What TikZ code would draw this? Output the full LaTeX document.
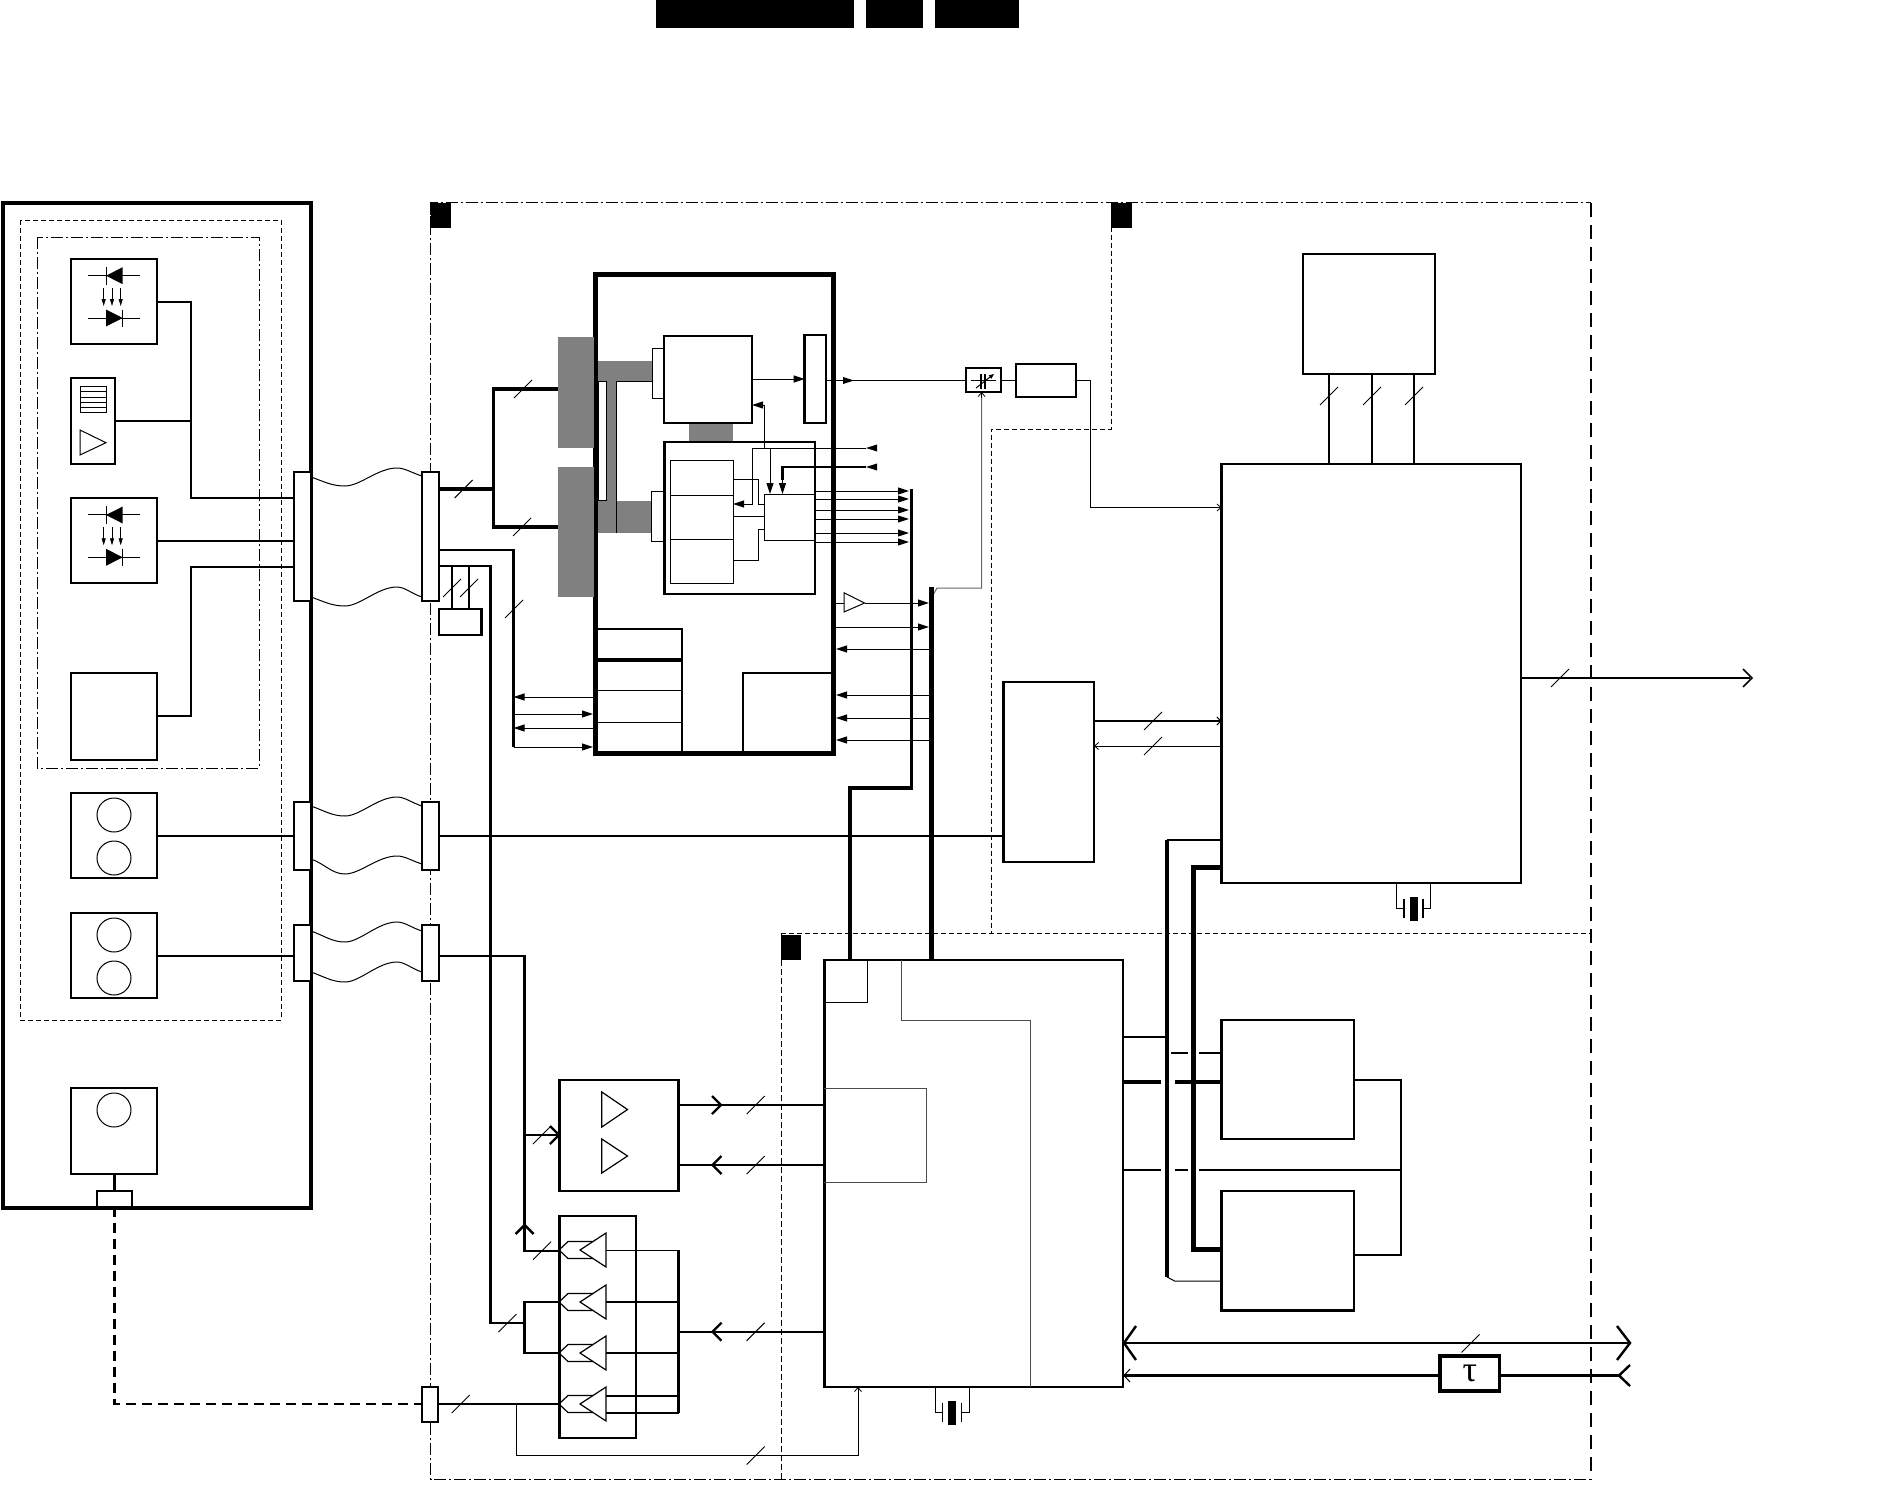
\documentclass[tikz,border=0pt]{standalone}
\usepackage{fontspec}
\setmainfont{Liberation Serif}
\usetikzlibrary{arrows.meta}
\newcommand\bx[6][]{\node[boxst,#1,anchor=north west,minimum width={(#5-#3)*1pt},minimum height={(#6-#4)*1pt}] (#2) at (#3,#4) {};}
\newcommand\tick[2]{\draw[tickst] (#1-9,#2+9) -- (#1+9,#2-9);}
\newcommand\opr[2]{\draw[w2] (#1-9,#2-9) -- (#1,#2) -- (#1-9,#2+9);}
\newcommand\opl[2]{\draw[w2] (#1+9,#2-9) -- (#1,#2) -- (#1+9,#2+9);}
\newcommand\trl[2]{\fill (#1,#2) -- (#1+11,#2-3.5) -- (#1+11,#2+3.5) -- cycle;}
\newcommand\trr[2]{\fill (#1,#2) -- (#1-11,#2-3.5) -- (#1-11,#2+3.5) -- cycle;}
\newcommand\diodes[1]{%
 \begin{scope}[yshift=#1*1pt]
 \draw[w1] (88,275.5) -- (140,275.5);
 \fill (106,275.7) -- (122.7,267.2) -- (122.7,284.2) -- cycle;
 \draw[w1] (106,267) -- (106,284.5);
 \draw[w1] (88,318) -- (140,318);
 \fill (122.7,318) -- (106,309.5) -- (106,326.5) -- cycle;
 \draw[w1] (122.7,309.5) -- (122.7,327);
 \foreach \ax in {103.7,112,120.7}{\draw[w07,-{Triangle[length=7pt,width=4pt]}] (\ax,288) -- (\ax,306);}
 \end{scope}}
\newcommand\crystal[3]{% left leg, right leg, top y
 \draw[w1] (#1,#3) -- (#1,#3+25.5) -- (#1+7.5,#3+25.5);
 \draw[w1] (#2,#3) -- (#2,#3+25.5) -- (#2-7.5,#3+25.5);
 \draw[w15] (#1+7.5,#3+15.5) -- (#1+7.5,#3+35);
 \draw[w15] (#2-7.5,#3+15.5) -- (#2-7.5,#3+35);
 \fill (#1+13,#3+13.5) rectangle (#2-13,#3+38);}
\newcommand\buffer[1]{%
 \draw[line width=1.2pt] (606,#1-17) -- (580,#1) -- (606,#1+17) -- cycle;
 \draw[line width=1.2pt] (593,#1-8.5) -- (568,#1-8.5) -- (559,#1) -- (568,#1+8.5) -- (593,#1+8.5);}
\tikzset{
 boxst/.style={draw,line width=2.4pt,inner sep=0pt,outer sep=0pt,fill=white},
 w07/.style={line width=.8pt}, w1/.style={line width=1pt}, w15/.style={line width=1.6pt},
 w2/.style={line width=2.4pt}, w25/.style={line width=2.8pt}, w3/.style={line width=3.2pt},
 w4/.style={line width=4.5pt},
 tickst/.style={line width=1pt},
 gr/.style={line width=1pt,black!70},
 arr/.style={-{Triangle[length=11pt,width=7pt]}},
 arrthin/.style={-{Straight Barb[length=4pt,width=7pt,line width=.8pt]}},
 frame/.style={line width=1pt,dash pattern=on 12pt off 3pt on 2pt off 3pt},
 fine/.style={line width=1pt,dash pattern=on 5pt off 3pt},
 longd/.style={line width=2pt,dash pattern=on 14pt off 8pt},
 line join=miter
}
\begin{document}
\begin{tikzpicture}[x=1pt,y=-1pt]
\useasboundingbox (0,0) rectangle (1881,1490);
% top bars
\fill (656,0) rectangle (854,28);
\fill (866,0) rectangle (923,28);
\fill (934.5,0) rectangle (1019,28);
% frames
\draw[frame] (430.5,228) -- (430.5,203) -- (1590.5,203);
\draw[frame] (430.5,203) -- (430.5,1479.5) -- (1590.5,1479.5);
\draw[longd] (1590.5,203) -- (1590.5,1479.5);
\draw[fine] (1111,203) -- (1111,429) -- (991,429) -- (991,933);
\draw[fine] (781,933) -- (1590.5,933);
\draw[line width=1pt,dash pattern=on 6pt off 3pt] (781,933) -- (781,1479.5);
\fill (430.5,203) rectangle (451,228);
\fill (1111,203) rectangle (1132,228);
\fill (781,934.5) rectangle (801,960);
% left unit
\draw[line width=3.5pt] (3,203) rectangle (311,1208);
\draw[fine] (20,220) rectangle (281,1020);
\draw[frame] (37,237) rectangle (259,768);
\bx[line width=2.8pt]{d1}{71}{259}{157}{344}
\bx[line width=2.8pt]{d2}{71}{378}{115}{464}
\bx[line width=2.8pt]{d3}{71}{498}{157}{583}
\bx[line width=2.8pt]{d4}{71}{673}{157}{760}
\bx[line width=2.8pt]{d5}{71}{793}{157}{878}
\bx[line width=2.8pt]{d6}{71}{913}{157}{998}
\bx[line width=2.8pt]{d7}{71}{1088}{157}{1174}
\bx[w2]{d8}{97}{1191}{132}{1207}
\diodes{0}
\diodes{-239.3}
\draw[w1] (80,386.7) rectangle (106,412.7);
\foreach \hy in {391.9,397.1,402.3,407.5}{\draw[w1] (80,\hy) -- (106,\hy);}
\draw[w1] (80,430) -- (106,442.7) -- (80,455) -- cycle;
\foreach \cy in {815,858,935,978,1110}{\draw[w1] (114,\cy) circle (17);}
% connectors
\bx[w2]{j1}{294}{472}{311}{601}
\bx[w2]{j2}{294}{802}{311}{870}
\bx[w2]{j3}{294}{925}{311}{981}
\bx[w2]{k1}{422}{472}{439}{601}
\bx[w2]{k2}{422}{802}{439}{870}
\bx[w2]{k3}{422}{925}{439}{981}
\bx[w2]{k4}{422}{1387}{438}{1422}
\foreach \a/\b/\c/\d in {477/486/468/476,597/606/587/597,806/816/797/806,859/874/856/864,931/942/922/931,972/982/962/972}{
 \draw[w1] (311,\a) .. controls (325,\a+5) and (332,\b) .. (345,\b) .. controls (360,\b) and (378,\c) .. (397,\c) .. controls (405,\c) and (412,\d-3) .. (422,\d);}
\draw[w2] (d1.east |- 0,302) -- (191,302) -- (191,498) -- (j1.west |- 0,498);
\draw[w2] (d2.east |- 0,421) -- (191,421);
\draw[w2] (d3.east |- 0,541) -- (j1.west |- 0,541);
\draw[w2] (d4.east |- 0,716) -- (191,716) -- (191,567) -- (j1.west |- 0,567);
\draw[w2] (d5.east |- 0,836) -- (j2.west |- 0,836);
\draw[w2] (d6.east |- 0,956) -- (j3.west |- 0,956);
\draw[w2] (d7.south -| d8.north) -- (d8.north);
\draw[line width=2.5pt,dash pattern=on 10pt off 6pt] (d8.south) -- (d8.south |- 0,1404) -- (k4.west |- 0,1404);
% main IC
\bx[line width=5pt,fill=none]{ic}{595.5}{274}{833.5}{753}
\fill[black!50] (558,336.7) rectangle (594,448);
\fill[black!50] (558,466.7) rectangle (594,597);
\fill[black!50] (598,361) rectangle (652,381);
\fill[black!50] (598,501) rectangle (651,533);
\fill[black!50] (606,381) rectangle (616,501);
\fill[black!50] (689,423) rectangle (732.5,441.7);
\draw[w1] (598.6,381) rectangle (606,500);
\draw[w1] (616,533) -- (616,381) -- (652,381);
\bx[w1]{s1}{652}{348}{664}{398}
\bx[w2]{cpu}{664}{336}{752}{423}
\bx[w2]{bar}{804.6}{334.7}{826}{423}
\bx[w2,fill=none]{inner}{664.6}{441.7}{815}{593.7}
\bx[w1]{s2}{651}{491}{663.6}{541.7}
\bx[w1]{mem}{670.4}{460.7}{733}{583}
\draw[w1] (mem.west |- 0,495) -- (mem.east |- 0,495);
\draw[w1] (mem.west |- 0,539) -- (mem.east |- 0,539);
\bx[w1,fill=none]{ctl}{764.3}{494}{815}{540.7}
\draw[w1] (mem.east |- 0,479) -- (758,479) -- (758,504) -- (ctl.west |- 0,504);
\draw[w1] (mem.east |- 0,516) -- (ctl.west |- 0,516);
\draw[w1] (mem.east |- 0,560) -- (758,560) -- (758,529) -- (ctl.west |- 0,529);
\coordinate (inA) at (866,448);
\coordinate (inB) at (866,467);
\draw[w1,arr] (inA) -- (752,448) -- (752,504) -- (mem.east |- 0,504);
\draw[w1,arr] (764,448) -- (764,405) -- (cpu.east |- 0,405);
\draw[w1,arr] (770,448) -- (ctl.north -| 770,0);
\draw[w2] (inB) -- (782.5,467) -- (782.5,480);
\draw[w1,arr] (782.5,480) -- (ctl.north -| 782.5,0);
\trl{866}{448}
\trl{866}{467}
\draw[w1,arr] (cpu.east |- 0,379) -- (bar.west |- 0,379);
\foreach \oy in {491,499,510,519,533,542}{\draw[w1,arr] (815,\oy) -- (909,\oy);}
% lower left of IC
\bx[w2,fill=none]{la}{595.5}{629}{681.8}{660}
\draw[w3] (598,660) -- (681.8,660);
\draw[w2] (681.8,660) -- (681.8,753);
\draw[w1] (598,690) -- (681.8,690);
\draw[w1] (598,722) -- (681.8,722);
\draw[w2] (743,751) -- (743,672.7) -- (832,672.7);
% left buses
\draw[w3] (k1.east |- 0,489) -- (493.6,489);
\draw[w3] (558,389) -- (493.6,389) -- (493.6,527) -- (558,527);
\tick{523}{389}\tick{522}{527}\tick{463.6}{489}
\draw[w25] (k1.east |- 0,550) -- (513.6,550) -- (513.6,747);
\tick{514}{609}
\draw[w1,arr] (593,697) -- (513.6,697);
\draw[w1,arr] (513.6,714) -- (593,714);
\draw[w1,arr] (593,728) -- (513.6,728);
\draw[w1,arr] (513.6,747) -- (593,747);
\draw[w2] (k1.east |- 0,566) -- (490.5,566) -- (490.5,1323) -- (524.6,1323);
\bx[w25]{rbox}{439}{609}{481.8}{635}
\draw[w15] (452,566) -- (452,609);
\draw[w15] (469,566) -- (469,609);
\tick{452}{588}\tick{469}{588}
% right of IC
\bx[w15]{cap}{966}{368}{1001}{392}
\bx[w2]{fil}{1016}{364}{1076}{397}
\draw[w2] (980.7,374) -- (980.7,389);
\draw[w2] (984.7,374) -- (984.7,389);
\draw[w1] (971,380.7) -- (996,380.7);
\draw[w1,-{Triangle[length=5pt,width=4pt]}] (976,388) -- (994,374);
\draw[w1] (bar.east |- 0,380.5) -- (cap.west |- 0,380.5);
\trr{854}{380.5}
\draw[w1] (cap.east |- 0,380.5) -- (fil.west |- 0,380.5);
\bx[w2]{bic}{1221.6}{464}{1521}{883}
\bx[w2]{top}{1303}{254}{1435}{374}
\draw[w1,arrthin] (fil.east |- 0,380.5) -- (1090.5,380.5) -- (1090.5,507.5) -- (bic.west |- 0,507.5);
\foreach \tx in {1329,1372,1414}{\draw[w2] (\tx,374) -- (\tx,464); \tick{\tx}{396}}
\draw[w15] (bic.east |- 0,678) -- (1750,678);
\draw[w15] (1743,669) -- (1752,678) -- (1743,687);
\tick{1560}{678}
\draw[line width=1pt,black!60] (933,595) -- (937,588) -- (981.6,588) -- (981.6,396);
\draw[w1,arrthin] (981.6,398) -- (cap.south -| 981.6,0);
\draw[w3] (911.5,489) -- (911.5,788) -- (850,788) -- (850,960);
\draw[w4] (931.5,587) -- (931.5,960);
\draw[w1] (833,603) -- (844,603);
\draw[w1] (844,592.7) -- (864.6,603) -- (844,612) -- cycle;
\draw[w1,arr] (864.6,603) -- (929,603);
\draw[w1,arr] (836,627) -- (929,627);
\foreach \oy in {649,695,718,740}{\draw[w1,arr] (930,\oy) -- (836,\oy);}
% middle box
\bx[w2]{mid}{1003.5}{682}{1094}{862}
\draw[w2] (k2.east |- 0,836) -- (mid.west |- 0,836);
\draw[w25,-{Straight Barb[length=4pt,width=8pt,line width=1pt]}] (mid.east |- 0,721) -- (bic.west |- 0,721);
\draw[w1,arrthin] (bic.west |- 0,746) -- (mid.east |- 0,746);
\tick{1153}{721}\tick{1153}{746}
\crystal{1396.6}{1430.5}{883}
% lower IC
\bx[w2]{lic}{824.4}{960}{1123}{1387}
\draw[w1] (867,960) -- (867,1002) -- (824.4,1002);
\draw[gr] (901,960) -- (901,1020) -- (1030,1020) -- (1030,1387);
\draw[gr] (824.4,1088) -- (926.4,1088) -- (926.4,1182) -- (824.4,1182);
\crystal{935}{969}{1387}
% amp box
\bx[w2]{amp}{559.5}{1080}{678.6}{1191}
\draw[line width=1.2pt] (601.8,1092) -- (627.5,1109.5) -- (601.8,1127) -- cycle;
\draw[line width=1.2pt] (601.8,1139) -- (627.5,1156) -- (601.8,1173) -- cycle;
\draw[w2] (amp.east |- 0,1105) -- (lic.west |- 0,1105);
\draw[w2] (amp.east |- 0,1165) -- (lic.west |- 0,1165);
\opr{721}{1105}\opl{712.5}{1165}
\tick{755.7}{1105}\tick{755.7}{1165}
% buffers
\bx[w2]{buf}{559.5}{1216}{636}{1438}
\foreach \cy in {1250,1302,1353,1404}{\buffer{\cy}}
\draw[w2] (k3.east |- 0,956) -- (524.6,956) -- (524.6,1250.7) -- (buf.west |- 0,1250.7);
\draw[w2] (525,1135) -- (amp.west |- 0,1135);
\draw[w2] (550,1126) -- (559,1135) -- (550,1144);
\draw[w2] (515.6,1234) -- (524.6,1225) -- (533.6,1234);
\tick{542}{1135}\tick{542}{1250.7}
\draw[w2] (buf.west |- 0,1302) -- (524.6,1302) -- (524.6,1353) -- (buf.west |- 0,1353);
\tick{507.5}{1323}
\draw[w2] (k4.east |- 0,1404) -- (buf.west |- 0,1404);
\tick{460.7}{1404}
\draw[w1,arrthin] (516.5,1404) -- (516.5,1455.5) -- (858,1455.5) -- (lic.south -| 858,0);
\tick{755.7}{1455.5}
\draw[w1] (606,1250) -- (678.6,1250);
\draw[w15] (606,1302) -- (678.6,1302);
\draw[w15] (606,1353) -- (678.6,1353);
\draw[w15] (606,1396) -- (678.6,1396);
\draw[w15] (606,1412.7) -- (678.6,1412.7);
\draw[w2] (678.6,1250) -- (678.6,1412.7);
\draw[w2] (678.6,1331.7) -- (lic.west |- 0,1331.7);
\opl{712.5}{1331.7}
\tick{755.7}{1331.7}
% lower right
\bx[w2]{ra}{1221.6}{1020}{1354}{1139}
\bx[w2]{rb}{1221.6}{1191}{1354}{1310.5}
\draw[w2] (ra.east |- 0,1080) -- (1401,1080) -- (1401,1255) -- (rb.east |- 0,1255);
\draw[w15] (bic.west |- 0,840) -- (1167,840);
\draw[w4] (1167,840) -- (1167,1277);
\draw[w1] (1167,1277) -- (1174.6,1281) -- (rb.west |- 0,1281);
\draw[line width=5pt] (bic.west |- 0,867) -- (1193,867) -- (1193,1249) -- (rb.west |- 0,1249);
\draw[w15] (lic.east |- 0,1037) -- (1167,1037);
\draw[w15] (1171,1053) -- (1188,1053);
\draw[w15] (1199,1053) -- (ra.west |- 0,1053);
\draw[w3] (lic.east |- 0,1082) -- (1161,1082);
\draw[w3] (1175,1082) -- (ra.west |- 0,1082);
\draw[w2] (lic.east |- 0,1170) -- (1161,1170);
\draw[w2] (1174.6,1170) -- (1188,1170);
\draw[w2] (1199,1170) -- (1401,1170);
\draw[w2] (lic.east |- 0,1343) -- (1628,1343);
\draw[w2] (1136,1326) -- (1124,1343) -- (1136,1360);
\draw[w2] (1617,1326) -- (1630,1343) -- (1617,1360);
\tick{1470.5}{1343.5}
\bx[line width=3.2pt]{tau}{1440}{1356}{1499.5}{1391}
\node[inner sep=0pt] (taulabel) at (tau.center) {\fontsize{36}{36}\selectfont τ};
\coordinate (tauend) at (1619,1375.5);
\draw[w2] (tauend) -- (tau.east |- tauend);
\draw[w2] (1630,1365) -- (1619,1375.5) -- (1630,1386);
\draw[w2] (tau.west |- tauend) -- (lic.east |- 0,1375.5);
\draw[w1] (1130,1369) -- (1124,1375.5) -- (1130,1382);
\end{tikzpicture}
\end{document}
